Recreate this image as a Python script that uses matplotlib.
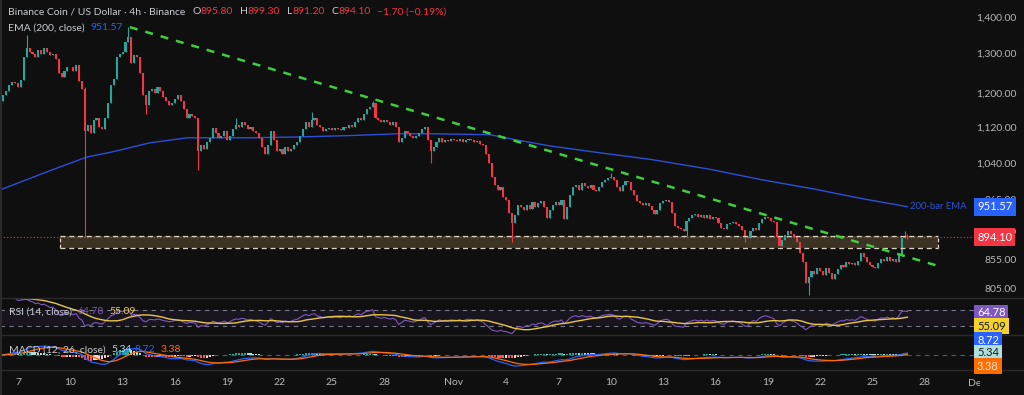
import numpy as np
import pandas as pd
import matplotlib
matplotlib.use('Agg')
import matplotlib.pyplot as plt
import matplotlib.dates as mdates
from matplotlib import font_manager
from matplotlib.patches import Rectangle
from matplotlib.lines import Line2D
from matplotlib.ticker import FixedLocator, FuncFormatter, NullLocator
from matplotlib.transforms import blended_transform_factory, Bbox, TransformedBbox

#%% data (4h candles)

first_candle = '2025-10-06 00:00'
first_open = 1170
closes = [
    1180, 1195, 1205, 1220, 1228, 1225,   # Oct 6
    1215, 1232, 1290, 1315, 1305, 1300,   # Oct 7
    1290, 1310, 1300, 1315, 1305, 1295,   # Oct 8
    1300, 1285, 1250, 1240, 1255, 1265,   # Oct 9
    1265, 1255, 1270, 1230, 1210, 1110,   # Oct 10
    1125, 1105, 1135, 1140, 1120, 1115,   # Oct 11
    1140, 1175, 1220, 1235, 1290, 1300,   # Oct 12
    1305, 1330, 1345, 1275, 1295, 1290,   # Oct 13
    1250, 1195, 1170, 1205, 1210, 1200,   # Oct 14
    1215, 1205, 1190, 1180, 1170, 1175,   # Oct 15
    1185, 1195, 1180, 1160, 1140, 1150,   # Oct 16
    1145, 1140, 1065, 1080, 1070, 1085,   # Oct 17
    1095, 1118, 1105, 1095, 1100, 1110,   # Oct 18
    1090, 1100, 1115, 1125, 1120, 1130,   # Oct 19
    1125, 1115, 1120, 1110, 1105, 1095,   # Oct 20
    1075, 1060, 1080, 1110, 1090, 1065,   # Oct 21
    1070, 1060, 1075, 1065, 1070, 1080,   # Oct 22
    1085, 1100, 1115, 1130, 1120, 1135,   # Oct 23
    1140, 1125, 1120, 1110, 1115, 1118,   # Oct 24
    1112, 1118, 1115, 1113, 1120, 1118,   # Oct 25
    1125, 1120, 1130, 1140, 1135, 1150,   # Oct 26
    1160, 1165, 1175, 1140, 1135, 1130,   # Oct 27
    1135, 1130, 1125, 1130, 1120, 1085,   # Oct 28
    1095, 1110, 1105, 1100, 1095, 1100,   # Oct 29
    1105, 1115, 1120, 1090, 1065, 1075,   # Oct 30
    1085, 1095, 1085, 1090, 1088, 1092,   # Oct 31
    1090, 1088, 1092, 1085, 1090, 1093,   # Nov 1
    1090, 1085, 1088, 1082, 1078, 1060,   # Nov 2
    1040, 1010, 995, 985, 990, 970,       # Nov 3
    965, 940, 920, 935, 955, 950,         # Nov 4
    945, 955, 948, 960, 950, 958,         # Nov 5
    962, 950, 930, 945, 955, 960,         # Nov 6
    955, 965, 928, 950, 975, 990,         # Nov 7
    995, 985, 998, 992, 988, 995,         # Nov 8
    985, 982, 990, 1000, 1005, 1008,      # Nov 9
    1010, 1005, 990, 982, 995, 1003,      # Nov 10
    1000, 985, 975, 962, 958, 955,        # Nov 11
    958, 952, 945, 938, 945, 958,         # Nov 12
    962, 965, 960, 940, 915, 912,         # Nov 13
    910, 905, 925, 930, 935, 938,         # Nov 14
    932, 936, 930, 935, 928, 932,         # Nov 15
    930, 920, 912, 910, 918, 920,         # Nov 16
    922, 918, 915, 908, 895, 892,         # Nov 17
    905, 912, 908, 920, 928, 932,         # Nov 18
    930, 925, 922, 895, 878, 890,         # Nov 19
    898, 905, 900, 895, 885, 865,         # Nov 20
    850, 815, 825, 835, 830, 840,         # Nov 21
    835, 828, 840, 832, 822, 830,         # Nov 22
    838, 845, 842, 850, 846, 848,         # Nov 23
    845, 852, 865, 858, 850, 845,         # Nov 24
    842, 840, 848, 855, 852, 858,         # Nov 25
    852, 856, 850, 862, 893, 895.8,       # Nov 26
    894.1,                                # Nov 27
]
# wicks that stand out (candle index -> price)
highs = {9: 1350, 29: 1215, 44: 1372, 81: 1140, 107: 1155, 128: 1180,
         210: 1020, 311: 905, 312: 899.3}
lows = {29: 895, 50: 1150, 68: 1025, 148: 1040, 176: 885, 236: 896,
        256: 885, 278: 795, 312: 891.2}

ema_dates = ['2025-10-06 00:00', '2025-10-08 20:00', '2025-10-10 23:00',
             '2025-10-12 07:00', '2025-10-14 14:00', '2025-10-16 17:00',
             '2025-10-20 07:00', '2025-10-23 04:00', '2025-10-26 01:00',
             '2025-10-28 18:00', '2025-10-30 15:00', '2025-11-03 01:00',
             '2025-11-04 15:00', '2025-11-06 12:00', '2025-11-09 09:00',
             '2025-11-12 06:00', '2025-11-15 16:00', '2025-11-18 13:00',
             '2025-11-21 17:00', '2025-11-24 07:00', '2025-11-27 00:00']
ema_values = [985, 1024, 1053, 1063, 1084, 1095, 1095, 1097, 1100, 1104, 1104,
              1102, 1090, 1077, 1062, 1048, 1027, 1006, 986, 968, 951.57]

trend_dates = ['2025-10-13 10:00', '2025-11-28 16:30']
trend_prices = [1372, 844]

zone_dates = ['2025-10-09 10:00', '2025-11-28 18:00']
zone_prices = [874, 896]

last_price = 894.10
ema_last = 951.57

price_ticks = [805, 855, 905, 965, 1040, 1120, 1200, 1300, 1400]
date_ticks = ['2025-10-07', '2025-10-10', '2025-10-13', '2025-10-16',
              '2025-10-19', '2025-10-22', '2025-10-25', '2025-10-28',
              '2025-11-01', '2025-11-04', '2025-11-07', '2025-11-10',
              '2025-11-13', '2025-11-16', '2025-11-19', '2025-11-22',
              '2025-11-25', '2025-11-28']
date_labels = ['7', '10', '13', '16', '19', '22', '25', '28', 'Nov',
               '4', '7', '10', '13', '16', '19', '22', '25', '28']

#%% style

BG = '#0f0f0f'
GREEN = '#26a69a'
RED = '#f23645'
TXT = '#b8b8b8'
SEP = '#2a2a2a'

names = {f.name for f in font_manager.fontManager.ttflist}
family = 'Liberation Sans Narrow' if 'Liberation Sans Narrow' in names else 'Lato'
plt.rcParams['font.family'] = [family, 'DejaVu Sans']

W, H = 1024, 395
fig = plt.figure(figsize=(W / 100, H / 100), dpi=100, facecolor=BG)

def fx(px):
    return px / W

def fy(py):
    return 1 - py / H

ax = fig.add_axes([0, fy(298), fx(975), 298 / H])
ax_rsi = fig.add_axes([0, fy(335), fx(975), 37 / H], sharex=ax)
ax_macd = fig.add_axes([0, fy(370), fx(975), 35 / H], sharex=ax)
for a in (ax, ax_rsi, ax_macd):
    a.set_facecolor(BG)
    for s in a.spines.values():
        s.set_visible(False)
    a.tick_params(length=0, labelbottom=False, labelleft=False)
    a.set_yticks([])

#%% candles

c = np.array(closes, float)
o = np.r_[first_open, c[:-1]]
hi = np.maximum(o, c)
lo = np.minimum(o, c)
for i, v in highs.items():
    hi[i] = v
for i, v in lows.items():
    lo[i] = v
t = mdates.date2num(pd.date_range(first_candle, periods=len(c), freq='4h'))
cols = np.where(c >= o, GREEN, RED)

ax.vlines(t, lo, hi, colors=cols, lw=0.8, zorder=3)
ax.bar(t, np.maximum(np.abs(c - o), 0.8), bottom=np.minimum(o, c), width=0.12,
       color=cols, linewidth=0, zorder=4)

ax.set_yscale('log')
ax.set_ylim(790, 1450)
ax.yaxis.set_major_locator(FixedLocator(price_ticks))
ax.yaxis.set_minor_locator(NullLocator())
ax.yaxis.set_major_formatter(FuncFormatter(lambda v, _: f'{v:,.2f}'))
ax.yaxis.tick_right()
ax.tick_params(axis='y', labelright=True, length=0, pad=30, labelsize=7.5,
               labelcolor=TXT)
for lbl in ax.yaxis.get_ticklabels():
    lbl.set_horizontalalignment('right')

# EMA 200
ema_x = mdates.date2num(pd.to_datetime(ema_dates))
ax.plot(ema_x, ema_values, color='#2a50d8', lw=1.0, zorder=2)

# support zone
zx = mdates.date2num(pd.to_datetime(zone_dates))
ax.add_patch(Rectangle((zx[0], zone_prices[0]), zx[1] - zx[0],
                       zone_prices[1] - zone_prices[0],
                       fc='#3d3325', ec='none', zorder=1))
for p in zone_prices:
    ax.plot(zx, [p, p], color='#ddd3c2', lw=0.9, ls=(0, (4, 3)), zorder=5)
for xx in zx:
    ax.plot([xx, xx], zone_prices, color='#ddd3c2', lw=0.9, ls=(0, (3, 2)), zorder=5)

# descending trendline
tx = mdates.date2num(pd.to_datetime(trend_dates))
ax.plot(tx, trend_prices, color='#3ecf3e', lw=1.8, ls=(0, (3.2, 3.2)), zorder=6)

# last price line
ax.axhline(last_price, color=RED, lw=0.8, ls=(0, (1, 2)), zorder=2)

tr = blended_transform_factory(ax.transAxes, ax.transData)
ax.text(910 / 975, ema_last, '200-bar EMA', transform=tr, color='#2f55d4',
        fontsize=6.8, ha='left', va='center', zorder=7)
for val, bg in ((ema_last, '#2962ff'), (last_price, RED)):
    ax.text(977 / 975, val, f'{val:.2f}', transform=tr, color='white',
            fontsize=8, ha='left', va='center', clip_on=False, zorder=10,
            bbox=dict(boxstyle='square,pad=0.3', fc=bg, ec='none'))

#%% RSI / MACD

s = pd.Series(c)
d = s.diff()
gain = d.clip(lower=0).ewm(alpha=1 / 14, adjust=False).mean()
loss = (-d.clip(upper=0)).ewm(alpha=1 / 14, adjust=False).mean()
rsi = 100 - 100 / (1 + gain / loss)
rsi_ma = rsi.rolling(14, min_periods=1).mean()

ax_rsi.axhspan(30, 70, color='#7e57c2', alpha=0.09, lw=0)
for lvl in (30, 70):
    ax_rsi.axhline(lvl, color='#787b86', lw=0.8, ls=(0, (4, 4)))
ax_rsi.plot(t, rsi, color='#7e57c2', lw=0.8)
ax_rsi.plot(t, rsi_ma, color='#e8c547', lw=1.0)
ax_rsi.set_ylim(9.4, 99)

macd = s.ewm(span=12, adjust=False).mean() - s.ewm(span=26, adjust=False).mean()
signal = macd.ewm(span=9, adjust=False).mean()
hist = macd - signal
prev = hist.shift(1).fillna(0)
hcols = np.where(hist >= 0, np.where(hist > prev, '#26a69a', '#b2dfdb'),
                 np.where(hist < prev, '#ff5252', '#ffcdd2'))
ax_macd.axhline(0, color='#787b86', lw=0.8, ls=(0, (4, 4)), alpha=0.7)
ax_macd.bar(t, hist, width=0.12, color=hcols, linewidth=0)
ax_macd.plot(t, macd, color='#2962ff', lw=0.9)
ax_macd.plot(t, signal, color='#ff6d00', lw=0.9)
low = min(macd.min(), signal.min())
ax_macd.set_ylim(low * 15 / 11, -low * 20 / 11)

#%% time axis

ax.set_xlim(mdates.date2num(pd.Timestamp('2025-10-05 23:15')),
            mdates.date2num(pd.Timestamp('2025-11-30 21:00')))
ax_macd.set_xticks(mdates.date2num(pd.to_datetime(date_ticks)))
ax_macd.set_xticklabels(date_labels)
ax_macd.tick_params(axis='x', labelbottom=True, length=0, pad=6,
                    labelsize=7.5, labelcolor=TXT)
dec = ax_macd.text(mdates.date2num(pd.Timestamp('2025-12-01')), fy(383), 'Dec',
                   transform=blended_transform_factory(ax_macd.transData, fig.transFigure),
                   color=TXT, fontsize=7.5, ha='center', va='center', clip_on=True)
dec.set_clip_box(TransformedBbox(Bbox([[0, 0], [fx(980), 1]]), fig.transFigure))

#%% legends and badges

def label_row(x_px, y_px, parts, size=7.5):
    txt = fig.text(fx(x_px), fy(y_px), parts[0][0], color=parts[0][1],
                   fontsize=size, ha='left', va='center', zorder=10)
    for s_, col, gap in parts[1:]:
        # attach to the last-drawn axes so no pane background covers it
        txt = ax_macd.annotate(s_, xy=(1, 0.5), xycoords=txt, xytext=(gap, 0),
                               textcoords='offset points', color=col, fontsize=size,
                               ha='left', va='center', annotation_clip=False,
                               clip_on=False, zorder=10)

GRAY = '#c9cbd1'
label_row(8, 12, [('Binance Coin / US Dollar \u00b7 4h \u00b7 Binance', GRAY, 0),
                  ('O', GRAY, 5), ('895.80', RED, 0),
                  ('H', GRAY, 5), ('899.30', RED, 0),
                  ('L', GRAY, 5), ('891.20', RED, 0),
                  ('C', GRAY, 5), ('894.10', RED, 0),
                  ('\u22121.70 (\u22120.19%)', RED, 4)])
label_row(8, 28, [('EMA (200, close)', GRAY, 0), ('951.57', '#2962ff', 4)])
label_row(9, 312, [('RSI (14, close)', GRAY, 0), ('64.78', '#7e57c2', 4),
                   ('55.09', '#f0d04a', 4)])
label_row(9, 350, [('MACD (12, 26, close)', GRAY, 0), ('5.34', '#b2dfdb', 4),
                   ('8.72', '#2962ff', 2), ('3.38', '#ff6d00', 4)])

for txt_, y_px, bg, fg in (('64.78', 313, '#7e57c2', 'white'),
                           ('55.09', 326, '#f5d22b', '#131722'),
                           ('8.72', 340, '#2962ff', 'white'),
                           ('5.34', 353, '#b2dfdb', '#131722'),
                           ('3.38', 366, '#ff6d00', '#ffe0cc')):
    fig.text(fx(977), fy(y_px), txt_, color=fg, fontsize=8, ha='left',
             va='center', zorder=10,
             bbox=dict(boxstyle='square,pad=0.25', fc=bg, ec='none'))

for y_px in (298, 335, 370):
    fig.add_artist(Line2D([0, 1], [fy(y_px), fy(y_px)], color=SEP, lw=1,
                          transform=fig.transFigure))
fig.add_artist(Line2D([fx(1), fx(1)], [0, 1], color=SEP, lw=1.5,
                      transform=fig.transFigure))

fig.savefig('out.png', dpi=100, facecolor=BG)
